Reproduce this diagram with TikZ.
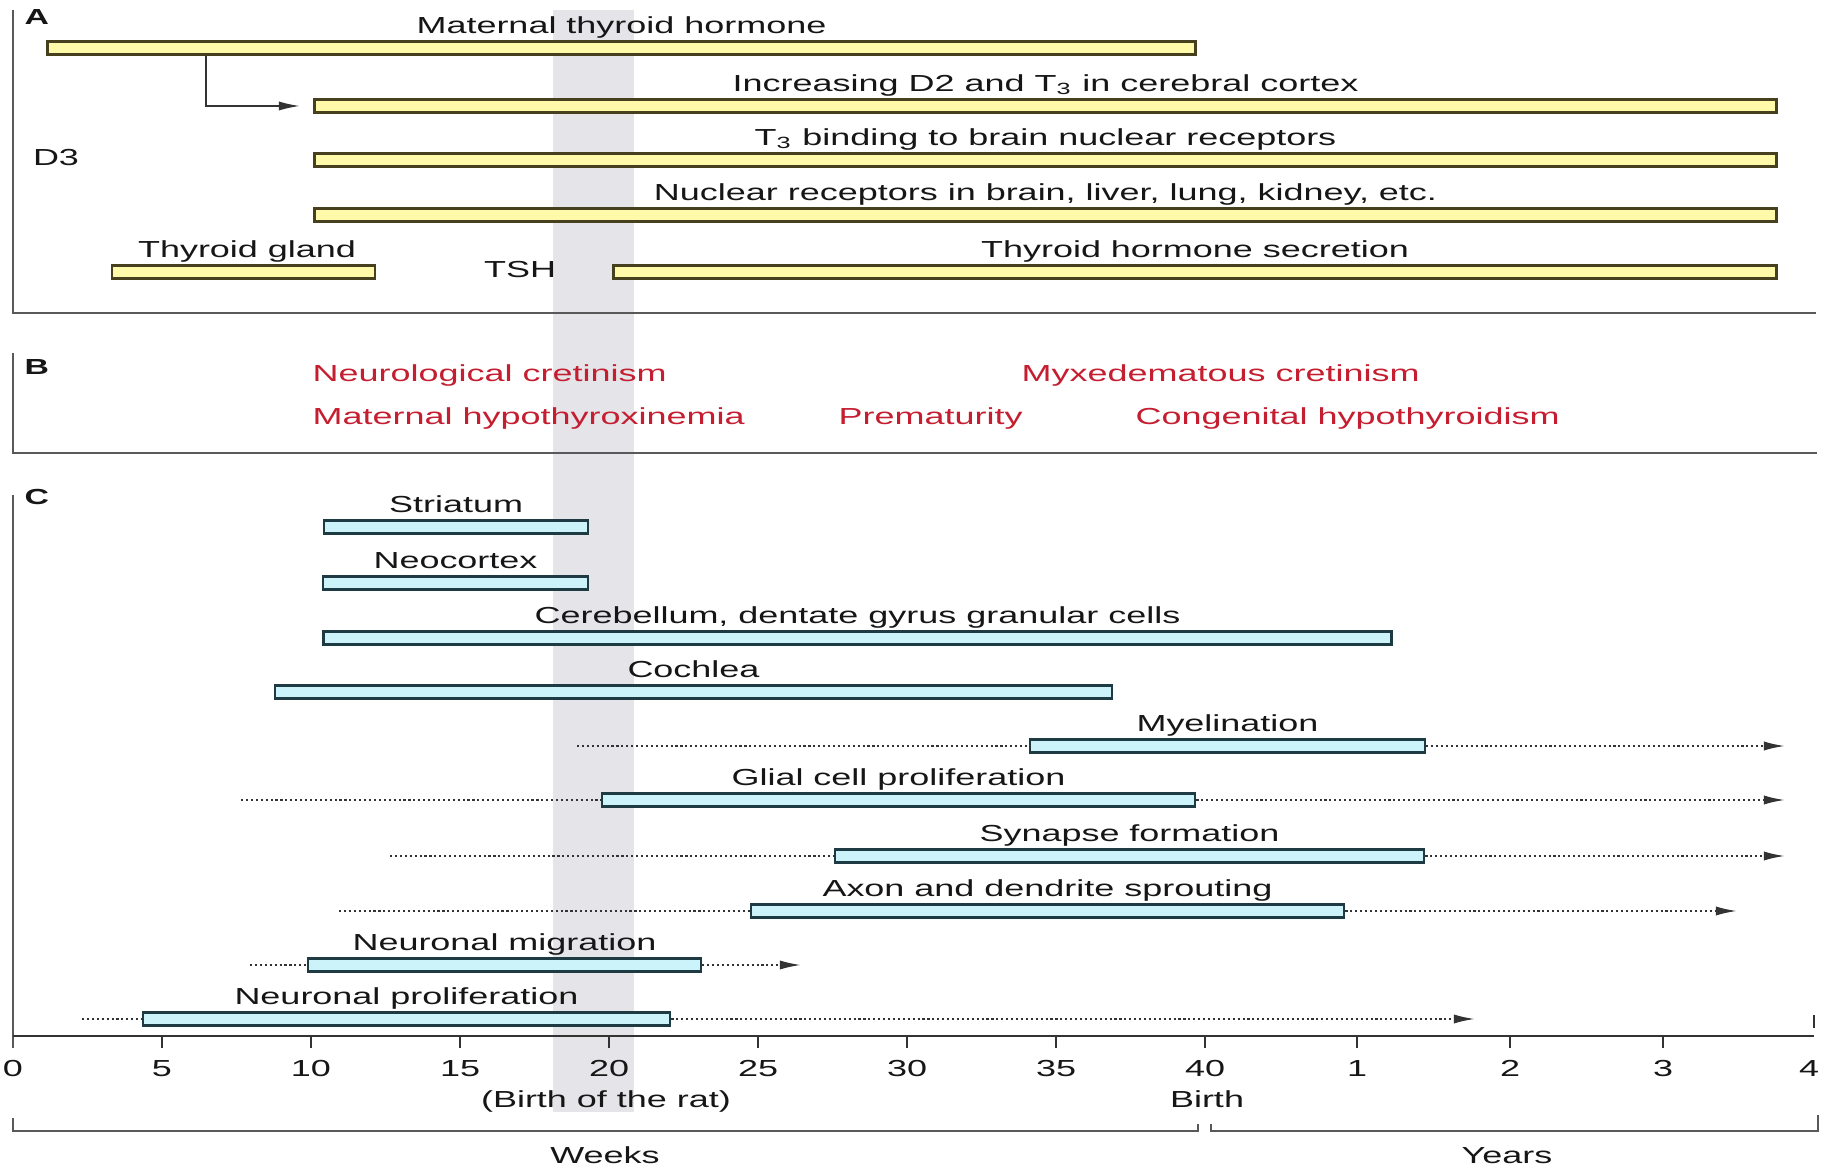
\documentclass[tikz,border=0pt]{standalone}
\usepackage{fontspec}
\setmainfont[FakeStretch=1.55]{Liberation Sans}
\usepackage{xcolor}
\usetikzlibrary{positioning,arrows.meta}

\definecolor{bandgray}{RGB}{229,229,233}
\definecolor{hormfill}{RGB}{255,249,170}
\definecolor{hormedge}{RGB}{70,64,30}
\definecolor{devfill}{RGB}{204,242,250}
\definecolor{devedge}{RGB}{30,58,66}
\definecolor{sickred}{RGB}{196,30,48}
\definecolor{inkgray}{RGB}{22,22,22}

\begin{document}
\begin{tikzpicture}[
    x=0.01cm, y=-0.01cm,
    font=\fontsize{6.6}{8}\selectfont,
    text=inkgray,
    hormbar/.style={
        draw=hormedge,
        fill=hormfill,
        line width=0.7pt,
        minimum height=0.13cm,
        inner sep=0pt
    },
    devbar/.style={
        draw=devedge,
        fill=devfill,
        line width=0.7pt,
        minimum height=0.13cm,
        inner sep=0pt
    },
    lbl/.style={anchor=base, inner sep=0pt},
    sick/.style={anchor=base west, inner sep=0pt, text=sickred},
    letter/.style={anchor=base west, inner sep=0pt, font=\fontsize{6.2}{7}\selectfont\bfseries},
    panel/.style={draw=black!65, line width=0.7pt},
    axisline/.style={draw=black!80, line width=0.7pt},
    dotline/.style={draw=black!80, line width=0.55pt, dash pattern=on 0.6pt off 0.8pt},
    arrowend/.style={-{Latex[length=6pt,width=2.6pt]}}
]

\useasboundingbox (0,0) rectangle (1825,1168);

\fill[bandgray] (553,10) rectangle (634,1112);

% A
\draw[panel] (13,10) -- (13,313) -- (1816,313);

\node[letter] (pa) at (24,25) {A};

\node[hormbar, minimum width=11.47cm] (mat) at (621.5,48) {};
\node[above=0.07cm of mat, lbl] (matL) {Maternal thyroid hormone};

\node[hormbar, minimum width=14.61cm] (dtwo) at (1045.5,106) {};
\node[above=0.07cm of dtwo, lbl] (dtwoL) {Increasing D2 and T\textsubscript{3} in cerebral cortex};

\node[hormbar, minimum width=14.61cm] (tbind) at (1045.5,160) {};
\node[above=0.07cm of tbind, lbl] (tbindL) {T\textsubscript{3} binding to brain nuclear receptors};

\node[hormbar, minimum width=14.61cm] (nucl) at (1045.5,215) {};
\node[above=0.07cm of nucl, lbl] (nuclL) {Nuclear receptors in brain, liver, lung, kidney, etc.};

\node[hormbar, minimum width=2.63cm] (gland) at (243.5,272) {};
\node[above=0.07cm of gland, lbl, xshift=1pt] (glandL) {Thyroid gland};

\node[hormbar, minimum width=11.62cm] (secr) at (1195,272) {};
\node[above=0.07cm of secr, lbl] (secrL) {Thyroid hormone secretion};

\node[lbl] (dthree) at (56,166) {D3};

\node[lbl] (tsh) at (520,278) {TSH};

\coordinate (turn) at (206,106);
\coordinate (dtwoin) at (300,106);
\draw[black!80, line width=0.5pt, arrowend] (turn |- mat.south) -- (turn) -- (dtwoin);

% B
\draw[panel] (13,353) -- (13,453) -- (1817,453);

\node[letter] (pb) at (24,375) {B};

\node[sick] (neurocret) at (312,382) {Neurological cretinism};
\node[sick] (myxcret) at (1021,382) {Myxedematous cretinism};
\node[sick] (mathypo) at (312,425) {Maternal hypothyroxinemia};
\node[sick] (premat) at (838,425) {Prematurity};
\node[sick] (conghypo) at (1135,425) {Congenital hypothyroidism};

% C
\draw[panel] (13,495) -- (13,1048);

\node[letter] (pc) at (24,505) {C};

\node[devbar, minimum width=2.64cm] (stri) at (456,527) {};
\node[above=0.07cm of stri, lbl] (striL) {Striatum};

\node[devbar, minimum width=2.65cm] (neo) at (455.5,583) {};
\node[above=0.07cm of neo, lbl] (neoL) {Neocortex};

\node[devbar, minimum width=10.67cm] (cereb) at (857.5,638) {};
\node[above=0.07cm of cereb, lbl] (cerebL) {Cerebellum, dentate gyrus granular cells};

\node[devbar, minimum width=8.37cm] (coch) at (693.5,692) {};
\node[above=0.07cm of coch, lbl] (cochL) {Cochlea};

\node[devbar, minimum width=3.95cm] (myel) at (1227.5,746) {};
\node[above=0.07cm of myel, lbl] (myelL) {Myelination};

\node[devbar, minimum width=5.93cm] (glial) at (898.5,800) {};
\node[above=0.07cm of glial, lbl] (glialL) {Glial cell proliferation};

\node[devbar, minimum width=5.89cm] (syn) at (1129.5,856) {};
\node[above=0.07cm of syn, lbl] (synL) {Synapse formation};

\node[devbar, minimum width=5.93cm] (axon) at (1047.5,911) {};
\node[above=0.07cm of axon, lbl] (axonL) {Axon and dendrite sprouting};

\node[devbar, minimum width=3.93cm] (migr) at (504.5,965) {};
\node[above=0.07cm of migr, lbl] (migrL) {Neuronal migration};

\node[devbar, minimum width=5.27cm] (prol) at (406.5,1019) {};
\node[above=0.07cm of prol, lbl] (prolL) {Neuronal proliferation};

\coordinate (myelS) at (577,746);
\coordinate (myelE) at (1785,746);
\coordinate (glialS) at (241,800);
\coordinate (glialE) at (1785,800);
\coordinate (synS) at (390,856);
\coordinate (synE) at (1785,856);
\coordinate (axonS) at (339,911);
\coordinate (axonE) at (1737,911);
\coordinate (migrS) at (250,965);
\coordinate (migrE) at (801,965);
\coordinate (prolS) at (82,1019);
\coordinate (prolE) at (1475,1019);

\draw[dotline] (myelS) -- (myel.west);
\draw[dotline, arrowend] (myel.east) -- (myelE);

\draw[dotline] (glialS) -- (glial.west);
\draw[dotline, arrowend] (glial.east) -- (glialE);

\draw[dotline] (synS) -- (syn.west);
\draw[dotline, arrowend] (syn.east) -- (synE);

\draw[dotline] (axonS) -- (axon.west);
\draw[dotline, arrowend] (axon.east) -- (axonE);

\draw[dotline] (migrS) -- (migr.west);
\draw[dotline, arrowend] (migr.east) -- (migrE);

\draw[dotline] (prolS) -- (prol.west);
\draw[dotline, arrowend] (prol.east) -- (prolE);

% time axis
\draw[axisline] (13,1036) -- (1814,1036);

\foreach \w in {5,10,...,40}
    \draw[axisline] ({13+29.8*\w},1036) -- ++(0,12);

\foreach \w in {0,5,...,40}
    \node[lbl] (wk\w) at ({13+29.8*\w},1076) {\w};

\foreach \yr/\px in {1/1357,2/1510,3/1663}
    \draw[axisline] (\px,1036) -- ++(0,12);

\foreach \yr/\px in {1/1357,2/1510,3/1663,4/1809}
    \node[lbl] (yr\yr) at (\px,1076) {\yr};

\draw[axisline] (1814,1015) -- (1814,1028);

\node[lbl] (ratbirth) at (606,1107) {(Birth of the rat)};

\node[lbl] (birth) at (1207,1107) {Birth};

\draw[panel] (13,1118) -- (13,1131) -- (1198,1131) -- (1198,1124);
\draw[panel] (1211,1124) -- (1211,1131) -- (1818,1131) -- (1818,1115);

\node[lbl] (weeks) at (605,1163) {Weeks};

\node[lbl] (years) at (1507,1163) {Years};

\end{tikzpicture}
\end{document}
